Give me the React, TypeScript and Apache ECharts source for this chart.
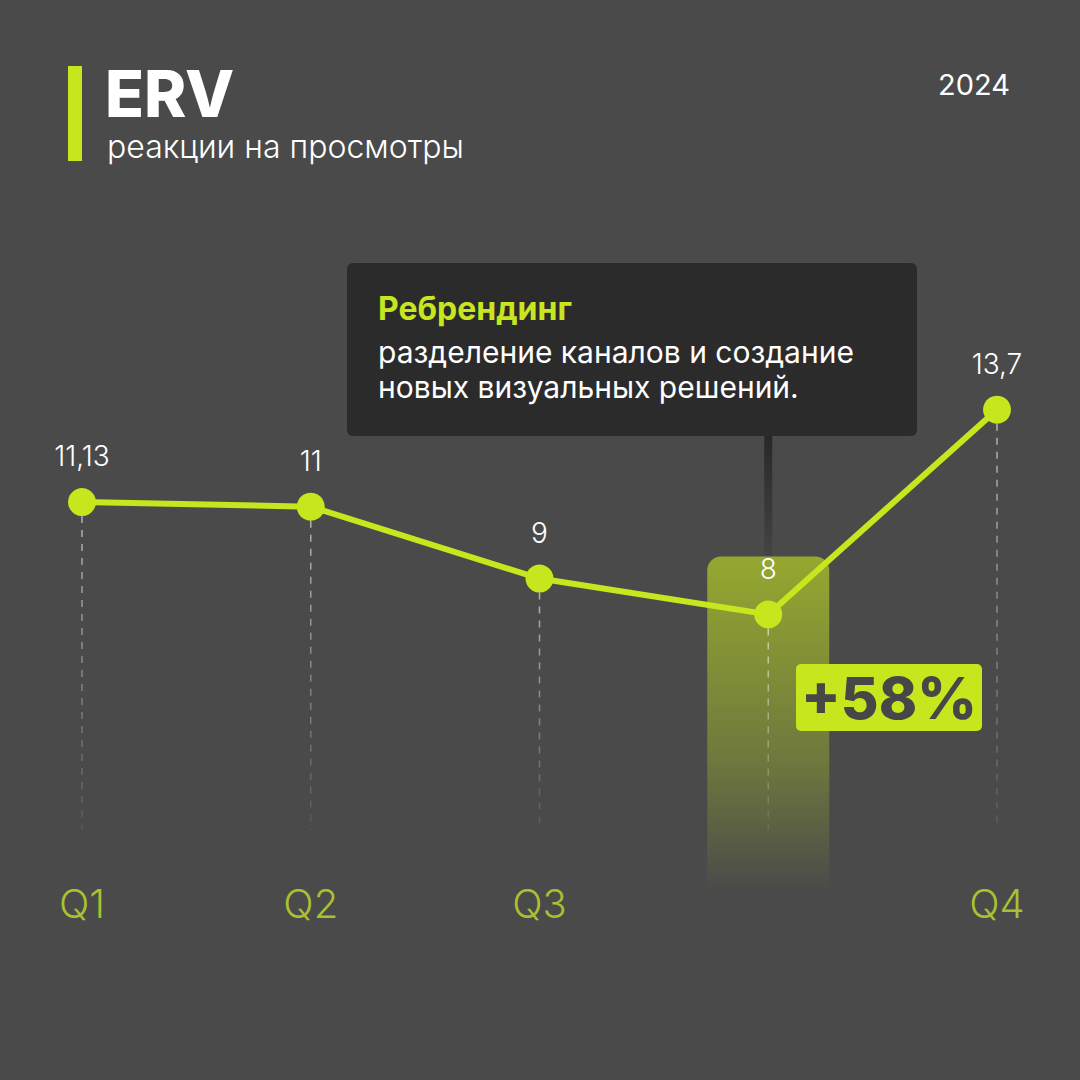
import React, { useEffect, useRef } from "react";
import * as echarts from "echarts";

const categories = ["Q1", "Q2", "Q3", "", "Q4"];
const ervValues = [11.13, 11, 9, 8, 13.7];
const highlightIndex = 3;
const titleText = "ERV";
const subtitleText = "реакции на просмотры";
const yearText = "2024";
const noteTitle = "Ребрендинг";
const noteLines = ["разделение каналов и создание", "новых визуальных решений."];
const growthText = "+58%";

const LIME = "#c8e61e";
const BG = "#4a4a4a";
const FONT = "Inter, 'Open Sans', sans-serif";

export default function App() {
  const ref = useRef<HTMLDivElement>(null);

  useEffect(() => {
    document.body.style.margin = "0";
    const chart = echarts.init(ref.current!, null, { renderer: "svg" });
    const fmt = (v: number) => String(v).replace(".", ",");

    chart.setOption({
      animation: false,
      backgroundColor: BG,
      textStyle: { fontFamily: FONT },
      grid: { left: 82, right: 83, top: 363, bottom: 214 },
      xAxis: {
        type: "category",
        data: categories,
        boundaryGap: false,
        axisLine: { show: false },
        axisTick: { show: false },
        splitLine: { show: false },
        axisLabel: {
          color: "#a9c030",
          fontSize: 40,
          fontWeight: 300,
          fontFamily: FONT,
          margin: 17,
        },
      },
      yAxis: { type: "value", min: 1, max: 15, show: false },
      series: [
        {
          type: "custom",
          z: 1,
          silent: true,
          data: [[highlightIndex, ervValues[highlightIndex]]],
          renderItem: (params: any, api: any) => {
            const p = api.coord([api.value(0), api.value(1)]);
            const base = api.coord([api.value(0), 1]);
            const top = p[1] - 58;
            const bottom = base[1] + 26;
            return {
              type: "group",
              children: [
                {
                  type: "rect",
                  shape: { x: p[0] - 4, y: 436, width: 8, height: top - 436 },
                  style: {
                    fill: new echarts.graphic.LinearGradient(0, 0, 0, 1, [
                      { offset: 0, color: "rgba(40,40,40,1)" },
                      { offset: 1, color: "rgba(40,40,40,0.15)" },
                    ]),
                  },
                },
                {
                  type: "rect",
                  shape: { x: p[0] - 61, y: top, width: 122, height: bottom - top, r: [14, 14, 0, 0] },
                  style: {
                    fill: new echarts.graphic.LinearGradient(0, 0, 0, 1, [
                      { offset: 0, color: "rgba(200,230,30,0.6)" },
                      { offset: 0.6, color: "rgba(200,230,30,0.3)" },
                      { offset: 1, color: "rgba(200,230,30,0)" },
                    ]),
                  },
                },
              ],
            };
          },
        },
        {
          type: "custom",
          z: 2,
          silent: true,
          data: ervValues.map((v, i) => [i, v]),
          renderItem: (params: any, api: any) => {
            const p = api.coord([api.value(0), api.value(1)]);
            const b = api.coord([api.value(0), 2]);
            return {
              type: "line",
              shape: { x1: p[0], y1: p[1] + 14, x2: b[0], y2: b[1] },
              style: {
                lineWidth: 1.5,
                lineDash: [7, 7],
                stroke: new echarts.graphic.LinearGradient(
                  0, p[1], 0, b[1],
                  [
                    { offset: 0, color: "rgba(255,255,255,0.6)" },
                    { offset: 1, color: "rgba(255,255,255,0.08)" },
                  ],
                  true
                ),
              },
            };
          },
        },
        {
          type: "line",
          z: 3,
          data: ervValues,
          symbol: "circle",
          symbolSize: 28,
          lineStyle: { color: LIME, width: 6 },
          itemStyle: { color: LIME },
          label: {
            show: true,
            position: "top",
            distance: 18,
            color: "#ffffff",
            fontSize: 28,
            fontWeight: 300,
            fontFamily: FONT,
            formatter: (p: any) => fmt(p.value),
          },
        },
      ],
      graphic: [
        { type: "rect", shape: { x: 68, y: 66, width: 14, height: 95 }, style: { fill: LIME } },
        {
          type: "text",
          style: { x: 105, y: 93, text: titleText, fill: "#ffffff", fontSize: 64, fontWeight: 800, fontFamily: FONT, verticalAlign: "middle" },
        },
        {
          type: "text",
          style: { x: 107, y: 146, text: subtitleText, fill: "#ffffff", fontSize: 32, fontWeight: 300, fontFamily: FONT, verticalAlign: "middle" },
        },
        {
          type: "text",
          style: { x: 1010, y: 84, text: yearText, fill: "#ffffff", fontSize: 29, fontWeight: 400, fontFamily: FONT, align: "right", verticalAlign: "middle" },
        },
        { type: "rect", shape: { x: 347, y: 263, width: 570, height: 173, r: 6 }, style: { fill: "#2b2b2b" } },
        {
          type: "text",
          style: { x: 378, y: 308, text: noteTitle, fill: LIME, fontSize: 32, fontWeight: 700, fontFamily: FONT, verticalAlign: "middle" },
        },
        {
          type: "text",
          style: {
            x: 378,
            y: 334,
            text: noteLines.join("\n"),
            fill: "#ffffff",
            fontSize: 30,
            lineHeight: 35,
            fontWeight: 400,
            fontFamily: FONT,
            verticalAlign: "top",
          },
        },
        { type: "rect", z: 10, shape: { x: 796, y: 664, width: 186, height: 67, r: 5 }, style: { fill: LIME } },
        {
          type: "text",
          z: 11,
          style: { x: 889, y: 698, text: growthText, fill: "#474747", fontSize: 58, fontWeight: 800, fontFamily: FONT, align: "center", verticalAlign: "middle" },
        },
      ],
    });
    return () => chart.dispose();
  }, []);

  return <div ref={ref} style={{ width: 1080, height: 1080 }} />;
}
